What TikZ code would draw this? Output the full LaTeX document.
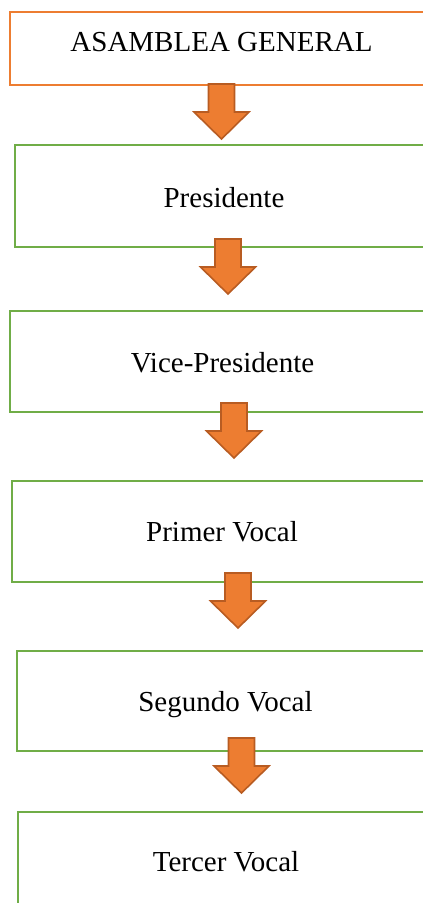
\documentclass[tikz,border=0pt]{standalone}
\usepackage{fontspec}
\setmainfont{Liberation Serif}
\definecolor{boxorange}{HTML}{ED7D31}
\definecolor{arrowedge}{HTML}{B85C22}
\definecolor{boxgreen}{HTML}{70AD47}
\tikzset{
  obox/.style={draw=boxorange, line width=2pt, fill=white},
  gbox/.style={draw=boxgreen, line width=2pt, fill=white},
  lbl/.style={anchor=base, inner sep=0pt, font=\fontsize{29}{34}\selectfont, text=black},
  blockarrow/.style={fill=boxorange, draw=arrowedge, line width=1.6pt, line join=miter},
  downarrow/.pic={\path[blockarrow] (-13,0) -- (13,0) -- (13,28) -- (27.5,28) -- (0,55) -- (-27.5,28) -- (-13,28) -- cycle;}
}
\begin{document}
\begin{tikzpicture}[x=1pt,y=-1pt]
\useasboundingbox (0,0) rectangle (423,903);
\clip (0,0) rectangle (423,903);
% boxes
\path[obox] (10,12) rectangle (440,85);
\path[gbox] (15,145) rectangle (440,247);
\path[gbox] (10,311) rectangle (440,412);
\path[gbox] (12,481) rectangle (440,582);
\path[gbox] (17,651) rectangle (440,751);
\path[gbox] (18,812) rectangle (440,930);
% labels
\node[lbl] (t1) at (221.5,51) {ASAMBLEA GENERAL};
\node[lbl] (t2) at (224,207) {Presidente};
\node[lbl] (t3) at (222.5,372) {Vice-Presidente};
\node[lbl] (t4) at (222,541) {Primer Vocal};
\node[lbl] (t5) at (225.5,711) {Segundo Vocal};
\node[lbl] (t6) at (226,871) {Tercer Vocal};
% arrows
\coordinate (a1) at (221.5,84);
\coordinate (a2) at (228,239);
\coordinate (a3) at (234,403);
\coordinate (a4) at (238,573);
\coordinate (a5) at (241.5,738);
\foreach \a in {a1,a2,a3,a4,a5} \pic at (\a) {downarrow};
\end{tikzpicture}
\end{document}
